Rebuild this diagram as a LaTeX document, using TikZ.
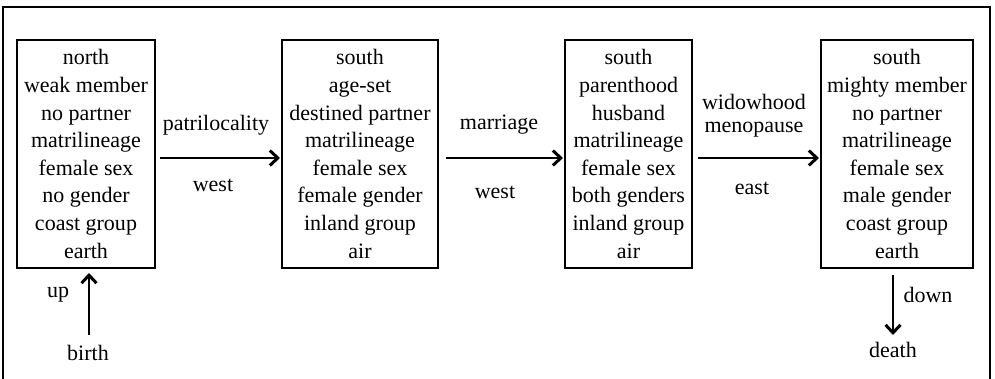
\documentclass[tikz,border=0pt]{standalone}
\usepackage{fontspec}
\setmainfont{Liberation Serif}
\usetikzlibrary{arrows.meta}
\begin{document}
\begin{tikzpicture}[x=1pt,y=-1pt,
  stage/.style={draw,line width=2pt,align=center,inner sep=0pt,
    font=\fontsize{22}{27.6}\selectfont,minimum height=228pt},
  lbl/.style={inner sep=0pt,font=\fontsize{22}{27.6}\selectfont},
  flow/.style={line width=2.6pt,-{Straight Barb[length=8pt,width=15pt,line width=3pt]}}]
\useasboundingbox (0,0) rectangle (995,379);
\draw[line width=1.5pt] (3,382) -- (3,7) -- (990,7) -- (990,382);
\node[stage,minimum width=138pt] (b1) at (86,154) {north\\weak member\\no partner\\matrilineage\\female sex\\no gender\\coast group\\earth};
\node[stage,minimum width=156pt] (b2) at (360,154) {south\\age-set\\destined partner\\matrilineage\\female sex\\female gender\\inland group\\air};
\node[stage,minimum width=127pt] (b3) at (628.5,154) {south\\parenthood\\husband\\matrilineage\\female sex\\both genders\\inland group\\air};
\node[stage,minimum width=152pt] (b4) at (897,154) {south\\mighty member\\no partner\\matrilineage\\female sex\\male gender\\coast group\\earth};
\draw[flow] ([xshift=4pt,yshift=-4pt]b1.east) -- ([xshift=-1pt,yshift=-4pt]b2.west);
\draw[flow] ([xshift=7pt,yshift=-4pt]b2.east) -- ([xshift=-1pt,yshift=-4pt]b3.west);
\draw[flow] ([xshift=5pt,yshift=-4pt]b3.east) -- ([xshift=-1pt,yshift=-4pt]b4.west);
\node[lbl] (l1a) at (216,125) {patrilocality};
\node[lbl] (l1b) at (213,185) {west};
\node[lbl] (l2a) at (499,125) {marriage};
\node[lbl] (l2b) at (495,192) {west};
\node[lbl] (l3a) at (754,102) {widowhood};
\node[lbl] (l3b) at (754,130) {menopause};
\node[lbl] (l3c) at (752,188) {east};
\node[lbl] (birth) at (88,353) {birth};
\node[lbl] (up) at (58,295) {up};
\node[lbl] (death) at (893,350) {death};
\node[lbl] (down) at (928,295) {down};
\coordinate (ut) at (89,335);
\coordinate (dt) at (893,275);
\coordinate (dh) at (893,335);
\draw[flow] (ut) -- ([yshift=-4pt]b1.south -| ut);
\draw[flow] (dt) -- (dh);
\end{tikzpicture}
\end{document}
